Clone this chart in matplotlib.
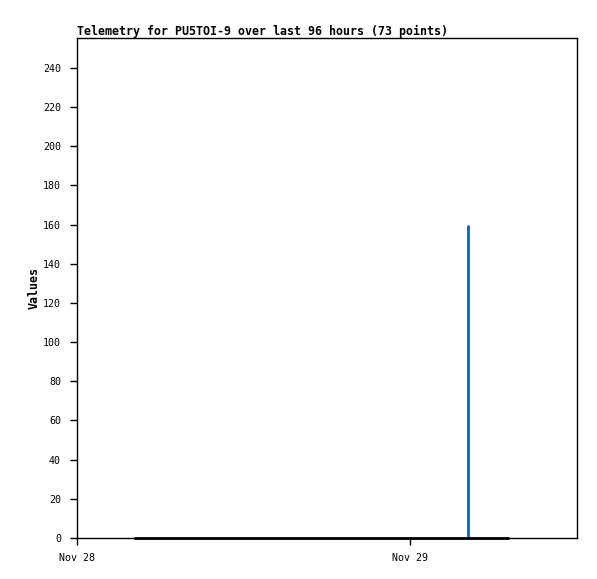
import datetime as dt
import matplotlib
matplotlib.use('Agg')
import matplotlib.pyplot as plt

#Chart data
title = 'Telemetry for PU5TOI-9 over last 96 hours (73 points)'
x_start = dt.datetime(2023, 11, 28, 0, 0)
x_end = dt.datetime(2023, 11, 29, 12, 0)

#Black series: 73 samples, all at zero
series_start = dt.datetime(2023, 11, 28, 4, 5)
series_step_min = 22.5
series_values = [0] * 73

#Blue spike
spike_times = [dt.datetime(2023, 11, 29, 4, 8), dt.datetime(2023, 11, 29, 4, 8)]
spike_values = [0, 160]

y_ticks = [0, 20, 40, 60, 80, 100, 120, 140, 160, 180, 200, 220, 240]
x_ticks = [dt.datetime(2023, 11, 28), dt.datetime(2023, 11, 29)]
x_tick_labels = ['Nov 28', 'Nov 29']

series_times = [series_start + dt.timedelta(minutes=series_step_min * i)
                for i in range(len(series_values))]

plt.rcParams['font.family'] = 'DejaVu Sans Mono'

fig = plt.figure(figsize=(5.97, 5.79), dpi=100)
ax = fig.add_axes([77 / 597, 1 - 538 / 579, 500 / 597, 500 / 579])

ax.plot(series_times, series_values, color='black', linewidth=2,
        solid_capstyle='butt', clip_on=False, zorder=3)
ax.plot(spike_times, spike_values, color='#0066cc', linewidth=2,
        solid_capstyle='butt', zorder=2)

ax.set_xlim(x_start, x_end)
ax.set_ylim(0, 255.3)
ax.set_yticks(y_ticks)
ax.set_yticklabels([str(v) for v in y_ticks], fontsize=7.2)
ax.set_xticks(x_ticks)
ax.set_xticklabels(x_tick_labels, fontsize=7.2)
ax.tick_params(axis='both', direction='out', length=5, width=1, colors='black')
ax.tick_params(axis='y', pad=6.5)
ax.tick_params(axis='x', pad=6)

for s in ax.spines.values():
    s.set_linewidth(1)
    s.set_color('black')

ax.set_title(title, loc='left', fontsize=8.4, fontweight='bold', pad=2)
ax.set_ylabel('Values', fontsize=8.4, fontweight='bold', labelpad=1.5)

fig.savefig('out.png', dpi=100)
